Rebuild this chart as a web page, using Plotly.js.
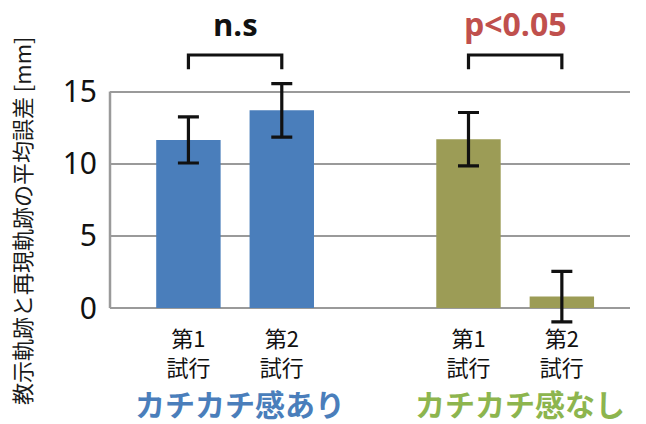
<!DOCTYPE html>
<html>
<head>
<meta charset="utf-8">
<script src="https://cdn.plot.ly/plotly-3.0.1.min.js"></script>
<style>html,body{margin:0;padding:0;background:#fff;}#chart{width:646px;height:424px;}</style>
</head>
<body>
<div id="chart"></div>
<script>
// ---- data ----
const groupNames = ["カチカチ感あり", "カチカチ感なし"];
const trialLabels = ["第1<br>試行", "第2<br>試行"];
const positionsA = [0, 1];
const positionsB = [3, 4];
const meanA = [11.65, 13.7];
const errA = [1.6, 1.85];
const meanB = [11.7, 0.8];
const errB = [1.85, 1.75];
const sigLabels = ["n.s", "p<0.05"];
const yTicks = [0, 5, 10, 15];
const yTitle = "教示軌跡と再現軌跡の平均誤差 [mm]";

// ---- styles ----
const blue = "#4a7ebb", olive = "#9c9c56";
const blueText = "#4a7ebb", greenText = "#8db54e", redText = "#c0504d";
const jp = "'Noto Sans CJK JP', 'Noto Sans', sans-serif";

function errStyle(arr) {
  return {type: "data", array: arr, visible: true, color: "#111", thickness: 3.2, width: 10.5};
}

const traces = [
  {type: "bar", x: positionsA, y: meanA, width: 0.69, marker: {color: blue}, error_y: errStyle(errA), hoverinfo: "none"},
  {type: "bar", x: positionsB, y: meanB, width: 0.69, marker: {color: olive}, error_y: errStyle(errB), hoverinfo: "none"}
];

const groups = [positionsA, positionsB];
const shapes = [
  {type: "line", xref: "paper", yref: "y", x0: 0, x1: 0, y0: 0, y1: yTicks[yTicks.length - 1],
   line: {color: "#9a9a9a", width: 2.5}}
];
const annotations = [
  {text: yTitle, xref: "paper", yref: "paper", x: -0.172, y: 0.424, textangle: -90,
   showarrow: false, font: {family: jp, size: 22, color: "#1a1a1a"}, xanchor: "center", yanchor: "middle"}
];
const sigColors = ["#111", redText];
const sigSizes = [31, 32];
const grpColors = [blueText, greenText];
groups.forEach((pos, i) => {
  const a = pos[0], b = pos[1];
  shapes.push({type: "path", xref: "x", yref: "paper",
    path: `M ${a} 1.0439 L ${a} 1.1025 L ${b} 1.1025 L ${b} 1.0439`,
    line: {color: "#111", width: 3.2}});
  annotations.push({text: "<b>" + sigLabels[i] + "</b>", xref: "x", yref: "paper",
    x: (a + b) / 2, y: 1.135, yanchor: "bottom", xanchor: "center", showarrow: false,
    font: {family: "'Open Sans', 'Noto Sans', sans-serif", size: sigSizes[i], color: sigColors[i]}});
  annotations.push({text: "<b>" + groupNames[i] + "</b>", xref: "x", yref: "paper",
    x: (a + b) / 2 + 0.05, y: -0.322, yanchor: "middle", xanchor: "center", showarrow: false,
    font: {family: jp, size: 30, color: grpColors[i]}});
});

const layout = {
  width: 646, height: 424,
  margin: {l: 110, r: 16, t: 80, b: 100, pad: 0},
  paper_bgcolor: "#fff", plot_bgcolor: "#fff",
  barmode: "overlay",
  showlegend: false,
  xaxis: {
    range: [-0.84, 4.73], tickvals: positionsA.concat(positionsB),
    ticktext: trialLabels.concat(trialLabels),
    showgrid: false, zeroline: false, showline: false, ticks: "",
    tickfont: {family: jp, size: 22, color: "#111"},
    fixedrange: true
  },
  yaxis: {
    range: [-1.1, 15.8], tickvals: yTicks, ticktext: yTicks.map(String),
    showgrid: true, gridcolor: "#9a9a9a", gridwidth: 2,
    zeroline: true, zerolinecolor: "#9a9a9a", zerolinewidth: 2,
    showline: false, ticks: "", ticklabelstandoff: 12,
    tickfont: {family: "'Noto Sans', 'Open Sans', sans-serif", size: 30, color: "#111"},
    fixedrange: true
  },
  shapes: shapes,
  annotations: annotations
};

Plotly.newPlot("chart", traces, layout, {displayModeBar: false, staticPlot: true});
</script>
</body>
</html>
